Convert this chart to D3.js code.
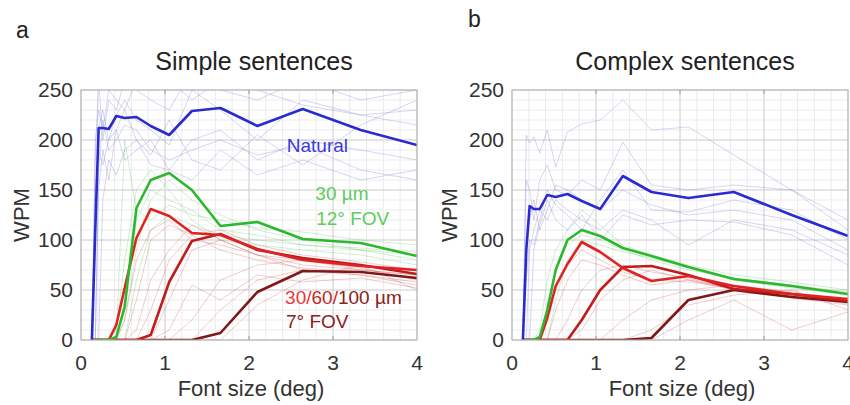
<!DOCTYPE html>
<html>
<head>
<meta charset="utf-8">
<script src="https://cdn.jsdelivr.net/npm/d3@7"></script>
<style>
  body { margin: 0; background: #fff; }
  svg { font-family: "Liberation Sans", Arial, sans-serif; }
</style>
</head>
<body>
<div id="chart"></div>
<script>
// font sizes (deg) at which reading speed was measured
var fontSizes = [0.13, 0.17, 0.21, 0.26, 0.33, 0.42, 0.52, 0.66, 0.83, 1.05, 1.32, 1.66, 2.1, 2.64, 3.33, 4.0];

// panel a: simple sentences (group means)
var simpleNatural = [0, 110, 212, 212, 211, 224, 222, 223, 214, 205, 229, 232, 214, 231, 210, 195];
var simple30um12  = [0, 0, 0, 0, 0, 3, 33, 132, 160, 167, 150, 114, 118, 101, 97, 84];
var simple30um7   = [0, 0, 0, 0, 0, 15, 52, 102, 131, 124, 107, 105, 91, 80, 74, 70];
var simple60um7   = [0, 0, 0, 0, 0, 0, 0, 0, 5, 58, 99, 106, 90, 82, 75, 66];
var simple100um7  = [0, 0, 0, 0, 0, 0, 0, 0, 0, 0, 0, 7, 48, 69, 68, 62];

// panel b: complex sentences (group means)
var complexNatural = [0, 90, 134, 131, 131, 145, 143, 146, 139, 131, 164, 148, 142, 148, 125, 104];
var complex30um12  = [0, 0, 0, 0, 3, 30, 70, 100, 110, 104, 92, 84, 73, 61, 54, 46];
var complex30um7   = [0, 0, 0, 0, 0, 22, 54, 76, 98, 88, 72, 59, 64, 54, 46, 41];
var complex60um7   = [0, 0, 0, 0, 0, 0, 0, 0, 20, 50, 73, 74, 65, 51, 46, 39];
var complex100um7  = [0, 0, 0, 0, 0, 0, 0, 0, 0, 0, 0, 2, 40, 50, 43, 38];

// individual observers (faint lines)
var simpleNaturalObs = [
  [0, 180, 260, 200, 240, 230, 260, 250, 240, 230, 270, 250, 240, 260, 240, 250],
  [0, 150, 190, 175, 200, 210, 180, 190, 200, 170, 200, 210, 180, 200, 190, 180],
  [0, 0, 170, 220, 190, 200, 215, 210, 190, 180, 190, 200, 185, 195, 170, 160],
  [0, 200, 230, 210, 250, 240, 230, 260, 250, 260, 240, 260, 250, 235, 225, 215],
  [0, 0, 0, 140, 180, 165, 190, 200, 175, 170, 160, 190, 165, 180, 160, 170],
  [0, 120, 210, 230, 200, 225, 240, 220, 210, 195, 250, 230, 200, 240, 225, 230],
  [0, 0, 150, 190, 160, 210, 230, 200, 185, 220, 180, 170, 205, 175, 215, 240]
];
var simple12Obs = [
  [0, 0, 0, 0, 0, 0, 40, 120, 150, 140, 130, 110, 105, 95, 90, 80],
  [0, 0, 0, 0, 0, 10, 80, 150, 170, 150, 120, 100, 95, 90, 85, 75],
  [0, 0, 0, 0, 0, 0, 0, 60, 110, 125, 115, 105, 100, 95, 92, 88],
  [0, 0, 0, 0, 0, 0, 20, 90, 140, 160, 140, 125, 110, 100, 90, 85],
  [0, 0, 0, 0, 0, 0, 200, 130, 120, 135, 125, 120, 112, 108, 100, 95]
];
var simple7Obs = [
  [0, 0, 0, 0, 0, 0, 20, 80, 110, 120, 100, 95, 85, 75, 70, 65],
  [0, 0, 0, 0, 0, 0, 0, 40, 100, 115, 105, 90, 80, 72, 68, 62],
  [0, 0, 0, 0, 0, 0, 0, 0, 30, 80, 105, 110, 95, 85, 78, 70],
  [0, 0, 0, 0, 0, 0, 0, 0, 0, 40, 90, 100, 85, 80, 70, 65],
  [0, 0, 0, 0, 0, 0, 0, 0, 0, 0, 20, 60, 75, 80, 72, 60],
  [0, 0, 0, 0, 0, 0, 0, 0, 0, 0, 0, 30, 60, 70, 65, 55],
  [0, 0, 0, 0, 0, 0, 0, 0, 0, 0, 0, 0, 35, 60, 75, 50],
  [0, 0, 0, 0, 0, 0, 0, 10, 60, 90, 115, 100, 85, 70, 65, 58],
  [0, 0, 0, 0, 0, 0, 0, 0, 0, 10, 55, 40, 65, 58, 62, 52]
];
var complexNaturalObs = [
  [0, 205, 197, 203, 187, 210, 173, 208, 216, 220, 240, 210, 213, 185, 150, 110],
  [0, 160, 150, 120, 160, 175, 150, 145, 160, 150, 198, 155, 150, 155, 150, 120],
  [0, 100, 120, 140, 110, 130, 155, 150, 140, 130, 150, 135, 125, 130, 120, 90],
  [0, 0, 90, 110, 130, 120, 140, 130, 120, 110, 130, 120, 95, 120, 110, 85],
  [0, 60, 100, 95, 120, 150, 135, 125, 110, 140, 170, 130, 128, 140, 130, 100],
  [0, 0, 0, 90, 115, 140, 120, 110, 125, 100, 125, 115, 120, 118, 105, 75]
];
var complex12Obs = [
  [0, 0, 0, 0, 10, 60, 90, 110, 130, 115, 95, 85, 75, 65, 58, 50],
  [0, 0, 0, 0, 0, 30, 70, 95, 105, 100, 90, 80, 70, 62, 55, 48],
  [0, 0, 0, 0, 0, 0, 40, 80, 100, 95, 88, 82, 72, 60, 52, 45]
];
var complex7Obs = [
  [0, 0, 0, 0, 0, 20, 50, 75, 90, 80, 68, 60, 58, 52, 45, 40],
  [0, 0, 0, 0, 0, 0, 30, 60, 80, 75, 65, 55, 60, 50, 44, 38],
  [0, 0, 0, 0, 0, 0, 0, 20, 50, 70, 75, 68, 62, 50, 45, 36],
  [0, 0, 0, 0, 0, 0, 0, 0, 10, 40, 60, 70, 60, 52, 42, 35],
  [0, 0, 0, 0, 0, 0, 0, 0, 0, 0, 20, 40, 50, 55, 48, 40],
  [0, 0, 0, 0, 0, 0, 0, 0, 0, 0, 0, 10, 35, 45, 50, 30],
  [0, 0, 0, 0, 0, 0, 0, 0, 0, 0, 0, 0, 20, 40, 10, 28]
];

var xTicks = [0, 1, 2, 3, 4];
var yTicks = [0, 50, 100, 150, 200, 250];

var colBlue = "#2a2ad0", colGreen = "#2cb82c", colRed = "#e02222",
    colMid = "#c01c1c", colDark = "#801818";

var svg = d3.select("#chart").append("svg")
    .attr("width", 850)
    .attr("height", 405);

var pw = 336, ph = 250;

function panel(left, letter, letterY, title, means, obs, withNotes, id) {
  var g = svg.append("g").attr("transform", "translate(" + left + ",90)");

  var x = d3.scaleLinear().domain([0, 4]).range([0, pw]);
  var y = d3.scaleLinear().domain([0, 250]).range([ph, 0]);

  // minor grid
  g.append("g").selectAll("line")
    .data(d3.range(0, 4.001, 0.2))
    .enter().append("line")
    .attr("x1", function(d) { return x(d); }).attr("x2", function(d) { return x(d); })
    .attr("y1", 0).attr("y2", ph)
    .style("stroke", "#ebebeb");
  g.append("g").selectAll("line")
    .data(d3.range(0, 250.1, 10))
    .enter().append("line")
    .attr("y1", function(d) { return y(d); }).attr("y2", function(d) { return y(d); })
    .attr("x1", 0).attr("x2", pw)
    .style("stroke", "#ebebeb");

  // major grid
  g.append("g").selectAll("line")
    .data(xTicks)
    .enter().append("line")
    .attr("x1", function(d) { return x(d); }).attr("x2", function(d) { return x(d); })
    .attr("y1", 0).attr("y2", ph)
    .style("stroke", "#d4d4d4");
  g.append("g").selectAll("line")
    .data(yTicks)
    .enter().append("line")
    .attr("y1", function(d) { return y(d); }).attr("y2", function(d) { return y(d); })
    .attr("x1", 0).attr("x2", pw)
    .style("stroke", "#d4d4d4");

  g.append("clipPath").attr("id", id)
    .append("rect").attr("width", pw).attr("height", ph);

  var line = d3.line()
    .x(function(d, i) { return x(fontSizes[i]); })
    .y(function(d) { return y(d); });

  var plot = g.append("g").attr("clip-path", "url(#" + id + ")");

  // faint observer lines
  plot.selectAll(".obsN").data(obs.natural).enter().append("path")
    .attr("d", line).style("fill", "none")
    .style("stroke", "#6a6ad0").style("stroke-opacity", 0.28).style("stroke-width", 1);
  plot.selectAll(".obsG").data(obs.green).enter().append("path")
    .attr("d", line).style("fill", "none")
    .style("stroke", "#40b840").style("stroke-opacity", 0.24).style("stroke-width", 1);
  plot.selectAll(".obsR").data(obs.red).enter().append("path")
    .attr("d", line).style("fill", "none")
    .style("stroke", "#c03030").style("stroke-opacity", 0.24).style("stroke-width", 1);

  // group means
  var series = [
    {v: means[4], c: colDark},
    {v: means[3], c: colMid},
    {v: means[2], c: colRed},
    {v: means[1], c: colGreen},
    {v: means[0], c: colBlue}
  ];
  plot.selectAll(".mean").data(series).enter().append("path")
    .attr("d", function(d) { return line(d.v); })
    .style("fill", "none")
    .style("stroke", function(d) { return d.c; })
    .style("stroke-width", 2.6)
    .style("stroke-linejoin", "round");

  // box + ticks
  g.append("rect").attr("width", pw).attr("height", ph)
    .style("fill", "none").style("stroke", "#b5b5b5");
  g.append("g").selectAll("line").data(xTicks.slice(1, 4)).enter().append("line")
    .attr("x1", function(d) { return x(d); }).attr("x2", function(d) { return x(d); })
    .attr("y1", ph).attr("y2", ph - 4).style("stroke", "#999");
  g.append("g").selectAll("line").data(xTicks.slice(1, 4)).enter().append("line")
    .attr("x1", function(d) { return x(d); }).attr("x2", function(d) { return x(d); })
    .attr("y1", 0).attr("y2", 4).style("stroke", "#999");

  g.append("g").selectAll("text").data(xTicks).enter().append("text")
    .attr("x", function(d) { return x(d); })
    .attr("y", ph + 30)
    .attr("text-anchor", "middle")
    .style("font-size", "21px").style("fill", "#333")
    .text(function(d) { return d; });
  g.append("g").selectAll("text").data(yTicks).enter().append("text")
    .attr("x", -8)
    .attr("y", function(d) { return y(d) + 7; })
    .attr("text-anchor", "end")
    .style("font-size", "21px").style("fill", "#333")
    .text(function(d) { return d; });

  g.append("text")
    .attr("x", pw / 2 + 2).attr("y", ph + 56)
    .attr("text-anchor", "middle")
    .style("font-size", "22px").style("fill", "#333")
    .text("Font size (deg)");
  g.append("text")
    .attr("transform", "translate(" + (left > 400 ? -55 : -52) + "," + (ph / 2) + ") rotate(-90)")
    .attr("text-anchor", "middle")
    .style("font-size", "22px").style("fill", "#333")
    .text("WPM");

  g.append("text")
    .attr("x", pw / 2 + 5).attr("y", -20)
    .attr("text-anchor", "middle")
    .style("font-size", "25px").style("fill", "#222")
    .text(title);

  svg.append("text")
    .attr("x", letter == "a" ? 16 : 468).attr("y", letterY)
    .style("font-size", "23px").style("fill", "#222")
    .text(letter);

  if (withNotes) {
    g.append("text").attr("x", x(2.45)).attr("y", y(188))
      .style("font-size", "19px").style("fill", "#3a3ad8").text("Natural");
    g.append("text").attr("x", x(2.79)).attr("y", y(140))
      .style("font-size", "19px").style("fill", "#5ccc5c").text("30 µm");
    g.append("text").attr("x", x(2.8)).attr("y", y(115))
      .style("font-size", "19px").style("fill", "#5ccc5c").text("12° FOV");
    var t = g.append("text").attr("x", x(2.43)).attr("y", y(36))
      .style("font-size", "19px");
    t.append("tspan").style("fill", "#e63a3a").text("30/");
    t.append("tspan").style("fill", "#c42a2a").text("60/");
    t.append("tspan").style("fill", "#8a2020").text("100 µm");
    g.append("text").attr("x", x(2.44)).attr("y", y(12))
      .style("font-size", "19px").style("fill", "#8a2020").text("7° FOV");
  }
}

panel(81, "a", 38, "Simple sentences",
  [simpleNatural, simple30um12, simple30um7, simple60um7, simple100um7],
  {natural: simpleNaturalObs, green: simple12Obs, red: simple7Obs}, true, "clipA");
panel(512, "b", 27, "Complex sentences",
  [complexNatural, complex30um12, complex30um7, complex60um7, complex100um7],
  {natural: complexNaturalObs, green: complex12Obs, red: complex7Obs}, false, "clipB");
</script>
</body>
</html>
